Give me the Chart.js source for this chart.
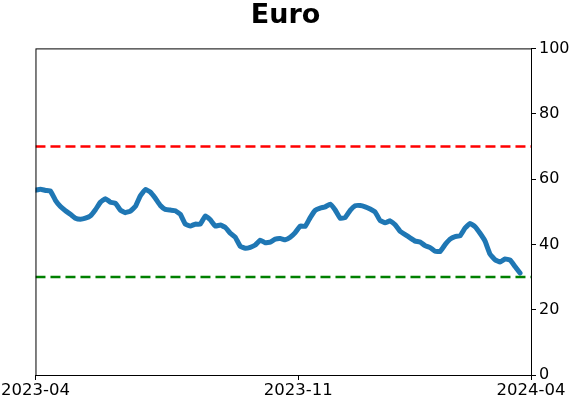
<!DOCTYPE html>
<html>
<head>
<meta charset="utf-8">
<script src="https://cdn.jsdelivr.net/npm/chart.js@4/dist/chart.umd.min.js"></script>
<style>
    html, body { margin: 0; padding: 0; background: #fff; }
    #wrap { width: 571px; height: 402px; }
</style>
</head>
<body>
<div id="wrap"><canvas id="chart"></canvas></div>
<script>
// Euro reading, one value per step along the x axis
const euroValues = [
    56.6, 56.9, 56.5, 56.3, 53.5, 51.6, 50.3, 49.2, 48.0, 47.7,
    48.0, 48.7, 50.6, 52.9, 54.0, 52.9, 52.6, 50.5, 49.7, 50.2,
    51.6, 54.9, 56.8, 56.0, 54.1, 51.9, 50.7, 50.5, 50.3, 49.2,
    46.2, 45.6, 46.2, 46.2, 48.7, 47.5, 45.6, 45.9, 45.2, 43.4,
    42.2, 39.4, 38.8, 39.1, 39.8, 41.3, 40.5, 40.7, 41.6, 41.8,
    41.4, 42.2, 43.6, 45.6, 45.5, 48.2, 50.4, 51.1, 51.5, 52.3,
    50.5, 48.0, 48.2, 50.4, 51.8, 51.9, 51.5, 50.8, 49.9, 47.3,
    46.6, 47.2, 46.0, 44.0, 43.0, 42.0, 41.0, 40.7, 39.6, 39.0,
    37.9, 37.8, 39.9, 41.6, 42.4, 42.6, 45.0, 46.4, 45.4, 43.4,
    41.0, 37.0, 35.3, 34.6, 35.5, 35.2, 33.2, 31.2
];
const tickLabels = ['2023-04', '2023-11', '2024-04'];
const tickSteps = [0, 52.6, 99.2];
const upperLevel = 70;
const lowerLevel = 30;

const xMax = tickSteps[tickSteps.length - 1];
const linePoints = euroValues.map((v, i) => ({ x: i, y: v }));
const levelLine = y => [{ x: 0, y }, { x: xMax, y }];

Chart.defaults.font.family = "'DejaVu Sans', sans-serif";
Chart.defaults.color = '#000';

// box around the plot area (all four spines)
const frame = {
    id: 'frame',
    afterDraw(chart) {
        const { ctx, chartArea: a } = chart;
        ctx.save();
        ctx.strokeStyle = '#000';
        ctx.lineWidth = 1;
        ctx.strokeRect(a.left + 0.5, a.top + 0.5, a.right - a.left, a.bottom - a.top);
        ctx.restore();
    }
};

new Chart(document.getElementById('chart'), {
    type: 'line',
    data: {
        datasets: [
            {
                data: levelLine(upperLevel),
                yAxisID: 'y',
                borderColor: '#ff0000',
                borderWidth: 2.5,
                borderDash: [10, 5],
                pointRadius: 0
            },
            {
                data: levelLine(lowerLevel),
                yAxisID: 'y',
                borderColor: '#008000',
                borderWidth: 2.5,
                borderDash: [10, 5],
                pointRadius: 0
            },
            {
                data: linePoints,
                yAxisID: 'y',
                borderColor: '#1f77b4',
                borderWidth: 5,
                pointRadius: 0,
                tension: 0.1,
                borderCapStyle: 'round',
                borderJoinStyle: 'round'
            }
        ]
    },
    options: {
        responsive: true,
        maintainAspectRatio: false,
        animation: false,
        layout: { padding: 0 },
        plugins: {
            legend: { display: false },
            tooltip: { enabled: false },
            title: {
                display: true,
                text: 'Euro',
                font: { size: 27, weight: 'bold' },
                padding: { top: 0, bottom: 16 }
            }
        },
        scales: {
            x: {
                type: 'linear',
                min: 0,
                max: xMax,
                afterBuildTicks: s => { s.ticks = tickSteps.map(v => ({ value: v })); },
                afterFit: s => { s.height = 27; },
                ticks: {
                    autoSkip: false,
                    maxRotation: 0,
                    font: { size: 16.5 },
                    padding: 1,
                    callback: (v, i) => tickLabels[i]
                },
                grid: { drawOnChartArea: false, tickLength: 5, color: '#000' },
                border: { display: true, color: '#000' }
            },
            y: {
                position: 'right',
                min: 0,
                max: 100,
                afterFit: s => { s.width = 40; },
                ticks: { stepSize: 20, font: { size: 16 }, padding: 3 },
                grid: { drawOnChartArea: false, tickLength: 5, color: '#000' },
                border: { display: true, color: '#000' }
            },
            // empty left margin so the title centres over the whole figure
            spacer: {
                type: 'linear',
                axis: 'y',
                position: 'left',
                afterFit: s => { s.width = 35; },
                ticks: { display: false },
                grid: { display: false },
                border: { display: false }
            }
        }
    },
    plugins: [frame]
});
</script>
</body>
</html>
